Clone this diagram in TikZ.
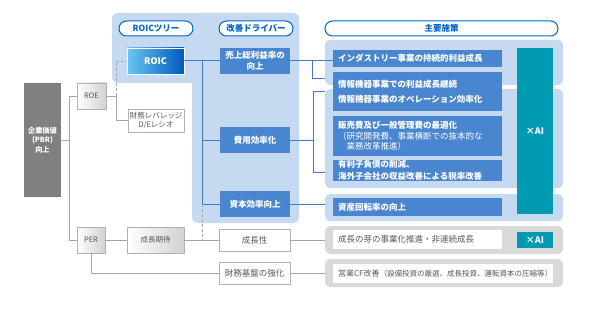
\documentclass[tikz,border=0pt]{standalone}
\usepackage{fontspec}
\setmainfont{Noto Sans CJK JP}
\usepackage{xcolor}
\usepackage{tikz}

\definecolor{panelblue}{RGB}{197,217,241}
\definecolor{drvblue}{RGB}{74,134,208}
\definecolor{lineblue}{RGB}{68,120,200}
\definecolor{pillblue}{RGB}{0,102,204}
\definecolor{aiteal}{RGB}{0,154,178}
\definecolor{pbrgray}{RGB}{128,128,128}
\definecolor{panelgray}{RGB}{217,217,217}
\definecolor{linegray}{RGB}{166,166,166}
\definecolor{txtgray}{RGB}{89,89,89}
\definecolor{roicleft}{RGB}{105,200,240}
\definecolor{roicright}{RGB}{0,88,190}

\begin{document}
\begin{tikzpicture}[x=1pt, y=-1pt, line width=0.8pt,
    panel/.style={fill=panelblue, rounded corners=5pt, inner sep=0pt, minimum width=238pt},
    pill/.style={draw=pillblue, line width=1pt, rounded corners=7.5pt, fill=white, text=pillblue,
        font=\bfseries\fontsize{8.5}{9}\selectfont, minimum height=15pt, inner sep=0pt},
    drv/.style={fill=drvblue, text=white, font=\bfseries\fontsize{8.5}{11}\selectfont, align=center,
        inner sep=0pt, minimum width=70pt, minimum height=26pt},
    sbox/.style={fill=drvblue, text=white, font=\bfseries\fontsize{8.5}{10.5}\selectfont, align=left,
        inner xsep=5pt, inner ysep=0pt, text width=159pt},
    wsbox/.style={fill=white, text=txtgray, font=\fontsize{8.5}{10}\selectfont, align=left,
        inner xsep=5pt, inner ysep=0pt, text width=159pt},
    aibox/.style={fill=aiteal, text=white, font=\bfseries\fontsize{9}{10}\selectfont,
        inner sep=0pt, minimum width=36pt},
    gbox/.style={draw=gray!60, left color=white, right color=gray!35, text=txtgray,
        font=\fontsize{7.5}{9}\selectfont, inner sep=0pt},
    wbox/.style={draw=gray!60, fill=white, text=txtgray, font=\fontsize{8.5}{9}\selectfont,
        align=center, inner sep=0pt},
    gline/.style={draw=linegray, line width=0.9pt},
    bline/.style={draw=lineblue, line width=1pt}]
\useasboundingbox (0,0) rectangle (592,313);

% 背景面板
\fill[panelblue, rounded corners=6pt] (112,13) rectangle (299,83);
\fill[panelblue, rounded corners=6pt] (192,13) rectangle (299,223);
\node[panel, minimum height=45pt] (pa) at (444,62.5) {};
\node[panel, minimum height=99pt] (pb) at (444,138.5) {};
\node[panel, minimum height=27pt] (pc) at (444,207.5) {};
\node[panel, fill=panelgray, minimum height=28pt] (pd) at (444,240) {};
\node[panel, fill=panelgray, minimum height=28pt] (pe) at (444,273) {};

% 标题
\node[pill, minimum width=74pt] (t1) at (156,28.5) {ROICツリー};
\node[pill, minimum width=74pt] (t2) at (256,28.5) {改善ドライバー};
\node[pill, minimum width=233pt] (t3) at (441.5,28.5) {主要施策};

% 左侧
\node[fill=pbrgray, text=white, font=\bfseries\fontsize{7.2}{9.5}\selectfont, align=center,
    inner sep=0pt, minimum width=37pt, minimum height=114pt] (pbr) at (42.5,140) {企業価値\\(PBR)\\向上};
\node[gbox, minimum width=29pt, minimum height=26pt] (roe) at (91.5,96) {ROE};
\node[wbox, font=\fontsize{7.5}{9}\selectfont, minimum width=56pt, minimum height=23pt] (de) at (156,120.5) {財務レバレッジ\\D/Eレシオ};
\node[gbox, minimum width=28pt, minimum height=26pt] (per) at (91,240) {PER};
\node[gbox, minimum width=57pt, minimum height=26pt] (kitai) at (155.5,240) {成長期待};
\node[wbox, minimum width=71pt, minimum height=22pt] (seicho) at (254.5,240) {成長性};
\node[wbox, minimum width=71pt, minimum height=22pt] (zaimu) at (254.5,273) {財務基盤の強化};

% ROIC与改善ドライバー
\node[draw=white, line width=0.6pt, left color=roicleft, right color=roicright,
    text=white, font=\bfseries\fontsize{9}{10}\selectfont, inner sep=0pt,
    minimum width=57pt, minimum height=26pt] (roic) at (155.5,61) {ROIC};
\node[drv] (d1) at (255,61) {売上総利益率の\\向上};
\node[drv] (d2) at (255,140) {費用効率化};
\node[drv] (d3) at (255,204) {資本効率向上};

% 主要施策
\node[sbox, minimum height=17pt] (s1) at (417.5,58.5) {インダストリー事業の持続的利益成長};
\node[sbox, font=\bfseries\fontsize{8.5}{15}\selectfont, minimum height=39pt] (s2) at (417.5,91.5) {情報機器事業での利益成長継続\\情報機器事業のオペレーション効率化};
\node[sbox, minimum height=40pt] (s3) at (417.5,136) {販売費及び一般管理費の最適化\\{\mdseries （研究開発費、事業横断での抜本的な}\\{\mdseries 　業務改革推進）}};
\node[sbox, font=\bfseries\fontsize{8.5}{12}\selectfont, minimum height=21pt] (s4) at (417.5,170.5) {有利子負債の削減、\\海外子会社の収益改善による税率改善};
\node[sbox, minimum height=18pt] (s5) at (417.5,207) {資産回転率の向上};
\node[aibox, minimum height=166pt] (ai1) at (535,131) {×AI};
\node[wsbox, minimum height=19pt] (s6) at (417.5,239.5) {成長の芽の事業化推進・非連続成長};
\node[aibox, minimum height=16pt] (ai2) at (535,240) {×AI};
\node[wsbox, font=\fontsize{8}{10}\selectfont, text width=210pt, minimum height=19pt] (s7) at (443,273.5) {営業CF改善{\fontsize{7.5}{8}\selectfont（設備投資の厳選、成長投資、運転資本の圧縮等）}};

% 灰色连线
\coordinate (j1) at (69,96);
\coordinate (j2) at (116,96);
\draw[gline] (pbr.east) -- (pbr.east -| j1);
\draw[gline] (roe.west) -- (j1) |- (per.west);
\draw[gline] (roe.east) -- (j2) |- (de.west);
\draw[gline, dash pattern=on 3pt off 2pt] (j2) |- (roic.west);
\draw[gline] (per.east) -- (kitai.west);
\draw[gline] (kitai.east) -- (seicho.west);
\draw[gline] (per.south) |- (zaimu.west);
\draw[gline] (seicho.east) -- (pd.west |- seicho.east);
\draw[gline] (zaimu.east) -- (pe.west |- zaimu.east);

% 蓝色连线
\coordinate (j3) at (202,61);
\draw[bline] (roic.east) -- (d1.west);
\draw[bline] (j3) |- (d3.west);
\draw[bline] (j3 |- d2.west) -- (d2.west);
\draw[gline, dash pattern=on 3pt off 2pt] (j3 |- d3.west) -- (j3 |- seicho.west);
\coordinate (j4) at (312,79);
\draw[bline] (d1.east) -- (d1.east -| s1.west);
\draw[bline] (d1.east -| j4) -- (j4) -- (pa.west |- j4);
\coordinate (b1) at (313,92);
\coordinate (b2) at (313,172);
\draw[bline] (pb.west |- b1) -- (b1) -- (b2) -- (pb.west |- b2);
\draw[bline] (d2.east) -- (d2.east -| b1);
\draw[bline] (d3.east) -- (pc.west |- d3.east);
\end{tikzpicture}
\end{document}
